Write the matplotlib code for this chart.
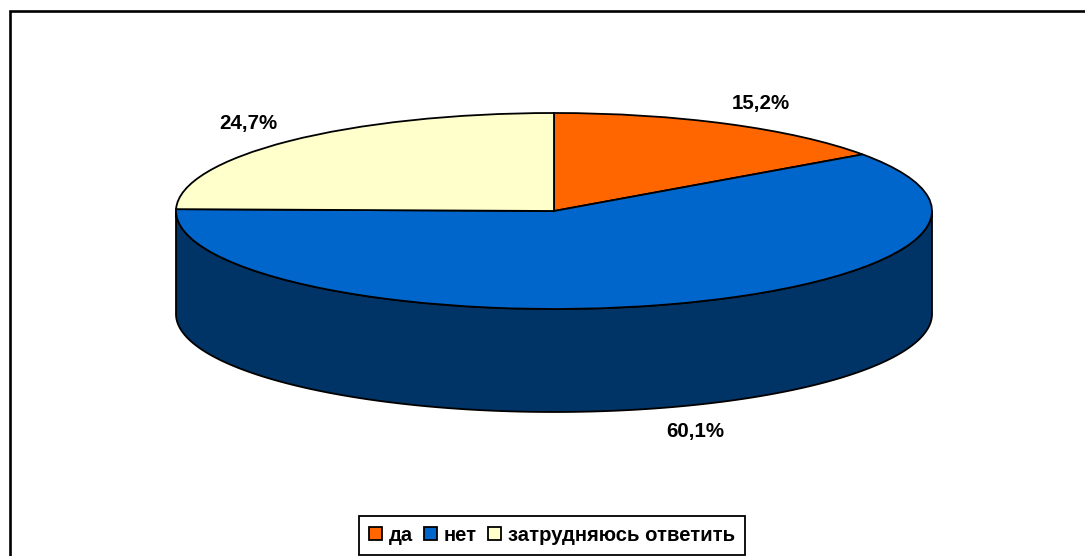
import numpy as np
import matplotlib
matplotlib.use('Agg')
import matplotlib.pyplot as plt
from matplotlib.patches import Patch, Polygon

plt.rcParams['font.family'] = ['Liberation Sans', 'DejaVu Sans']

# Data
categories = ['да', 'нет', 'затрудняюсь ответить']
values = [15.2, 60.1, 24.7]
value_labels = ['15,2%', '60,1%', '24,7%']
top_colors = ['#FF6600', '#0066CC', '#FFFFCC']
side_color = '#003366'

W, H = 1085, 556
cx, cy = 554, 211
rx, ry = 378, 98
depth = 103 / ry  # pie thickness, in units of the vertical radius
label_pos = [(761, 104), (695, 431), (248, 123)]  # pixels

fig = plt.figure(figsize=(W / 100, H / 100), dpi=100, facecolor='white')
ax = fig.add_axes([0, 0, 1, 1])

# the pie is a unit circle squashed by the axes limits
ax.pie(values, colors=top_colors, startangle=90, counterclock=False, radius=1,
       wedgeprops={'edgecolor': 'black', 'linewidth': 1.3, 'zorder': 3})
ax.set_aspect('auto')
ax.set_xlim((0 - cx) / rx, (W - cx) / rx)
ax.set_ylim((cy - H) / ry, cy / ry)
ax.axis('off')

# side wall of the pie: only the front half of the rim can be seen
start = 90 - 360 * values[0] / sum(values)
end = 90 - 360 * (values[0] + values[1]) / sum(values)
t = np.radians(np.linspace(min(start, 0), max(end, -180), 300))
rim_x, rim_y = np.cos(t), np.sin(t)
side_x = np.concatenate([rim_x, rim_x[::-1]])
side_y = np.concatenate([rim_y, rim_y[::-1] - depth])
ax.add_patch(Polygon(np.column_stack([side_x, side_y]), closed=True, facecolor=side_color,
                     edgecolor='black', linewidth=1.3, zorder=2))


def to_data(px, py):
    return (px - cx) / rx, (cy - py) / ry


for text, (px, py) in zip(value_labels, label_pos):
    x, y = to_data(px, py)
    ax.text(x, y, text, ha='center', va='center', fontsize=14.8, fontweight='bold',
            color='black', zorder=5)

# chart border runs off the right and bottom of the picture
fig.add_artist(plt.Line2D([1.0, 9.5 / W, 9.5 / W], [1 - 11 / H, 1 - 11 / H, 0],
                          color='black', linewidth=1.9, solid_joinstyle='miter'))

handles = [Patch(facecolor=c, edgecolor='black', linewidth=1.3) for c in top_colors]
leg = fig.legend(handles, categories, ncol=3, loc='center',
                 bbox_to_anchor=(552 / W, 1 - 535.5 / H),
                 prop={'size': 14.6, 'weight': 'bold'}, frameon=True, fancybox=False,
                 edgecolor='black', framealpha=1, handlelength=0.62, handleheight=0.62,
                 handletextpad=0.35, columnspacing=0.55, borderpad=0.5, borderaxespad=0)
leg.get_frame().set_linewidth(1.3)

fig.savefig('out.png', dpi=100, facecolor='white')
